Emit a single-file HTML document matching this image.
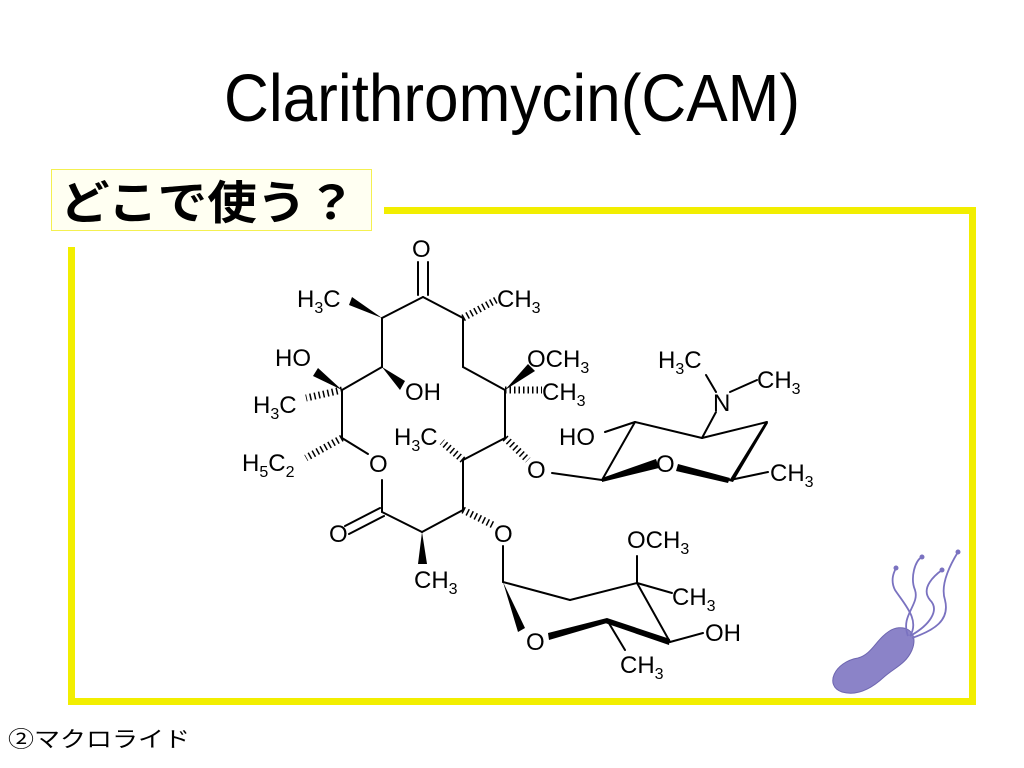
<!DOCTYPE html>
<html><head><meta charset="utf-8"><style>
html,body{margin:0;padding:0;background:#fff;}
body{width:1024px;height:768px;overflow:hidden;position:relative;font-family:"Liberation Sans","Noto Sans CJK JP",sans-serif;}
</style></head><body>
<svg width="1024" height="768" viewBox="0 0 1024 768" xmlns="http://www.w3.org/2000/svg" style="position:absolute;left:0;top:0">
<text x="224" y="121" font-size="67" textLength="576" lengthAdjust="spacingAndGlyphs" font-family="Liberation Sans, sans-serif">Clarithromycin(CAM)</text>
<g fill="#f2ee00">
<rect x="384" y="207" width="592" height="7"/>
<rect x="969" y="207" width="7" height="498"/>
<rect x="68" y="698" width="908" height="7"/>
<rect x="68" y="247" width="7" height="458"/>
</g>
<rect x="51.5" y="169.5" width="320" height="61" fill="#fffff2" stroke="#f4f050" stroke-width="1"/>
<text x="60" y="219" font-size="46" font-weight="bold" textLength="296" lengthAdjust="spacingAndGlyphs" font-family="Liberation Sans, Noto Sans CJK JP, sans-serif">どこで使う？</text>
<text x="8" y="747" font-size="22" textLength="182" lengthAdjust="spacingAndGlyphs" font-family="Liberation Sans, Noto Sans CJK JP, sans-serif">②マクロライド</text>

<g stroke="#000" stroke-width="2" fill="none" stroke-linecap="round">
<line x1="382" y1="318" x2="423" y2="297"/>
<line x1="423" y1="297" x2="463" y2="318"/>
<line x1="418" y1="295" x2="418" y2="262"/><line x1="428" y1="295" x2="428" y2="262"/>
<line x1="463" y1="318" x2="463" y2="367"/>
<line x1="463" y1="367" x2="505" y2="390"/>
<line x1="505" y1="390" x2="505" y2="438"/>
<line x1="505" y1="438" x2="463" y2="460"/>
<line x1="463" y1="460" x2="463" y2="510"/>
<line x1="463" y1="510" x2="422" y2="532"/>
<line x1="422" y1="532" x2="382" y2="512"/>
<line x1="380" y1="508" x2="345" y2="526"/><line x1="384" y1="516" x2="349" y2="534"/>
<line x1="382" y1="512" x2="382" y2="480"/>
<line x1="368" y1="454" x2="342" y2="438"/>
<line x1="342" y1="438" x2="342" y2="390"/>
<line x1="342" y1="390" x2="382" y2="367"/>
<line x1="382" y1="367" x2="382" y2="318"/>
<line x1="552" y1="473" x2="602" y2="480"/>
<line x1="730" y1="480" x2="768" y2="472"/>
<line x1="767" y1="422" x2="702" y2="438"/>
<line x1="702" y1="438" x2="716" y2="412"/>
<line x1="716" y1="392" x2="706" y2="375"/>
<line x1="730" y1="392" x2="757" y2="380"/>
<line x1="702" y1="438" x2="635" y2="422"/>
<line x1="635" y1="422" x2="605" y2="432"/>
<line x1="635" y1="422" x2="602" y2="480"/>
<line x1="503" y1="546" x2="503" y2="582"/>
<line x1="670" y1="642" x2="703" y2="633"/>
<line x1="607" y1="620" x2="625" y2="650"/>
<line x1="670" y1="642" x2="637" y2="583"/>
<line x1="637" y1="583" x2="637" y2="556"/>
<line x1="637" y1="583" x2="672" y2="593"/>
<line x1="637" y1="583" x2="570" y2="600"/>
<line x1="570" y1="600" x2="503" y2="582"/>
</g>
<g fill="#000">
<polygon points="382,318 352,297 349,305"/>
<polygon points="342,390 318,368 313,376"/>
<polygon points="382,367 405,381 400,390"/>
<polygon points="505,390 528,364 535,371"/>
<polygon points="422,532 418,564 427,564"/>
<polygon points="602,482 602,478 656,459 659,468"/>
<polygon points="678,464 730,478 728,483 676,471"/>
<polygon points="729,481 766,421 768,423 733,482"/>
<polygon points="503,582 525,628 518,632"/>
<polygon points="548,633 607,618 607,623 549,640"/>
<polygon points="607,618 670,639 669,645 605,623"/>
</g>
<g stroke="#000" fill="none">
<line x1="463" y1="318" x2="496" y2="300" stroke-width="7" stroke-dasharray="1.5 3"/>
<line x1="342" y1="390" x2="306" y2="398" stroke-width="7" stroke-dasharray="1.5 3"/>
<line x1="342" y1="438" x2="306" y2="458" stroke-width="7" stroke-dasharray="1.5 3"/>
<line x1="505" y1="390" x2="542" y2="390" stroke-width="7" stroke-dasharray="1.5 3"/>
<line x1="505" y1="438" x2="528" y2="460" stroke-width="7" stroke-dasharray="1.5 3"/>
<line x1="463" y1="460" x2="442" y2="442" stroke-width="7" stroke-dasharray="1.5 3"/>
<line x1="463" y1="510" x2="493" y2="525" stroke-width="7" stroke-dasharray="1.5 3"/>
</g>
<g font-size="24" font-family="Liberation Sans, sans-serif" fill="#000">
<text x="412" y="257">O</text>
<text x="297" y="307">H<tspan font-size="16" dy="6">3</tspan><tspan dy="-6">C</tspan></text>
<text x="497" y="307">CH<tspan font-size="16" dy="6">3</tspan></text>
<text x="275" y="366">HO</text>
<text x="253" y="413">H<tspan font-size="16" dy="6">3</tspan><tspan dy="-6">C</tspan></text>
<text x="405" y="400">OH</text>
<text x="242" y="471">H<tspan font-size="16" dy="6">5</tspan><tspan dy="-6">C</tspan><tspan font-size="16" dy="6">2</tspan></text>
<text x="369" y="472">O</text>
<text x="394" y="445">H<tspan font-size="16" dy="6">3</tspan><tspan dy="-6">C</tspan></text>
<text x="527" y="367">OCH<tspan font-size="16" dy="6">3</tspan></text>
<text x="542" y="400">CH<tspan font-size="16" dy="6">3</tspan></text>
<text x="527" y="478">O</text>
<text x="329" y="542">O</text>
<text x="494" y="542">O</text>
<text x="414" y="588">CH<tspan font-size="16" dy="6">3</tspan></text>
<text x="559" y="445">HO</text>
<text x="656" y="472">O</text>
<text x="770" y="481">CH<tspan font-size="16" dy="6">3</tspan></text>
<text x="713" y="411">N</text>
<text x="658" y="368">H<tspan font-size="16" dy="6">3</tspan><tspan dy="-6">C</tspan></text>
<text x="757" y="388">CH<tspan font-size="16" dy="6">3</tspan></text>
<text x="627" y="548">OCH<tspan font-size="16" dy="6">3</tspan></text>
<text x="672" y="605">CH<tspan font-size="16" dy="6">3</tspan></text>
<text x="705" y="641">OH</text>
<text x="526" y="650">O</text>
<text x="620" y="673">CH<tspan font-size="16" dy="6">3</tspan></text>
</g>
<g>
<path d="M842,692 C824,686 834,662 858,658 C872,654 876,640 888,632 C902,622 920,630 912,650 C906,664 894,668 884,677 C870,690 856,696 842,692 Z" fill="#8b83c8" stroke="#6e66b0" stroke-width="1"/>
<g stroke="#7a72c0" stroke-width="1.8" fill="none">
<path d="M910,636 C920,620 905,605 895,590 C890,580 894,572 896,568"/>
<path d="M910,636 C930,625 940,610 930,600 C920,588 935,575 942,570"/>
<path d="M912,638 C935,630 950,620 945,600 C940,585 950,565 958,552"/>
<path d="M908,636 C900,615 920,605 915,590 C910,578 915,560 922,557"/>
</g>
<g fill="#7a72c0"><circle cx="896" cy="568" r="2.5"/><circle cx="942" cy="570" r="2.5"/><circle cx="958" cy="552" r="2.5"/><circle cx="922" cy="557" r="2.5"/></g>
</g>
</svg>
</body></html>
